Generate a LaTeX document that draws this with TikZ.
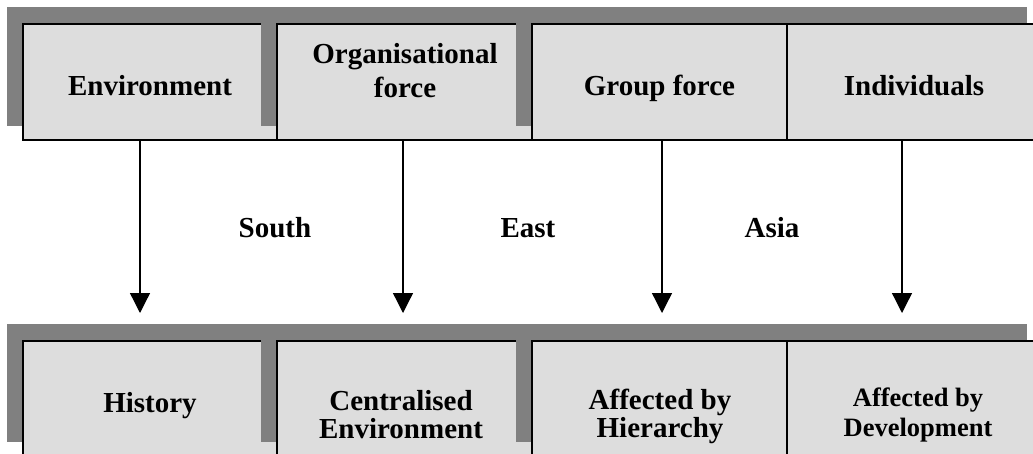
\documentclass[tikz,border=0pt]{standalone}
\usepackage{fontspec}
\setmainfont{Liberation Serif}
\usetikzlibrary{arrows.meta}
\definecolor{shade}{HTML}{808080}
\definecolor{panel}{HTML}{DDDDDD}
\tikzset{
  shadowbox/.style={fill=shade, draw=none},
  panelbox/.style={fill=panel, draw=black, line width=1.5pt, outer sep=0pt,
    minimum height=116pt, inner sep=0pt},
  lbl/.style={font=\bfseries\fontsize{29}{34}\selectfont, align=center,
    inner sep=0pt, anchor=base},
  lbltight/.style={lbl, font=\bfseries\fontsize{29}{28}\selectfont},
  lblsmall/.style={lbl, font=\bfseries\fontsize{26.5}{30}\selectfont},
  flow/.style={line width=1.3pt, -{Triangle[length=20pt,width=20pt]}},
}
\begin{document}
\begin{tikzpicture}[x=1pt,y=-1pt]
\useasboundingbox (0,0) rectangle (1033,453);
\clip (0,0) rectangle (1033,453);

% ---- upper row: forces ----
\fill[shadowbox] (771,7) rectangle (1027,126);
\node[panelbox, minimum width=256pt] (ind) at (915,82) {};
\fill[shadowbox] (7,7) rectangle (261,126);
\node[panelbox, minimum width=254pt] (env) at (150,82) {};
\fill[shadowbox] (261,7) rectangle (516,126);
\node[panelbox, minimum width=255pt] (org) at (404.5,82) {};
\fill[shadowbox] (516,7) rectangle (771,126);
\node[panelbox, minimum width=255pt] (grp) at (659.5,82) {};

% multi-line labels are anchored at the baseline of their last line
\node[lbl] (tenv) at (150,95) {Environment};
\node[lbl] (torg) at (405,97) {Organisational\\force};
\node[lbl] (tgrp) at (659.5,95) {Group force};
\node[lbl] (tind) at (914,95) {Individuals};

% ---- lower row: outcomes ----
\fill[shadowbox] (771,324) rectangle (1027,442);
\node[panelbox, minimum width=256pt] (dev) at (915,399) {};
\fill[shadowbox] (7,324) rectangle (261,442);
\node[panelbox, minimum width=254pt] (his) at (150,399) {};
\fill[shadowbox] (261,324) rectangle (516,442);
\node[panelbox, minimum width=255pt] (cen) at (404.5,399) {};
\fill[shadowbox] (516,324) rectangle (771,442);
\node[panelbox, minimum width=255pt] (hie) at (659.5,399) {};

\node[lbl] (this) at (150,412) {History};
\node[lbltight] (tcen) at (401,438) {Centralised\\Environment};
\node[lbltight] (thie) at (660,437) {Affected by\\Hierarchy};
\node[lblsmall] (tdev) at (918,436) {Affected by\\Development};

% ---- connectors ----
\coordinate (e1) at (140,313);
\coordinate (e2) at (403,313);
\coordinate (e3) at (662,313);
\coordinate (e4) at (902,313);
\draw[flow] (e1 |- env.south) -- (e1);
\draw[flow] (e2 |- org.south) -- (e2);
\draw[flow] (e3 |- grp.south) -- (e3);
\draw[flow] (e4 |- ind.south) -- (e4);

% ---- region labels ----
\node[lbl] (south) at (275,237) {South};
\node[lbl] (east) at (528,237) {East};
\node[lbl] (asia) at (772,237) {Asia};
\end{tikzpicture}
\end{document}
